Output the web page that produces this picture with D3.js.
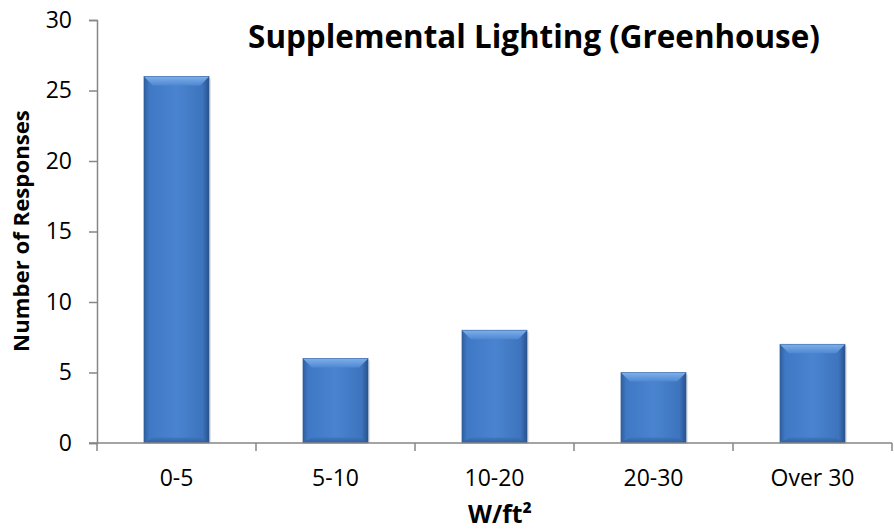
<!DOCTYPE html>
<html><head><meta charset="utf-8">
<script src="https://cdn.jsdelivr.net/npm/d3@7"></script>
<style>body{margin:0;background:#fff}svg{display:block}text{font-family:"Open Sans",sans-serif}</style>
</head><body>
<svg id="c" width="894" height="529"></svg>
<script>
const categories = ["0-5","5-10","10-20","20-30","Over 30"];
const values = [26, 6, 8, 5, 7];
const yTicks = [0,5,10,15,20,25,30];

const svg = d3.select("#c");
const m = {l:97, r:892, t:20, b:443};
const x = d3.scaleBand().domain(categories).range([m.l, m.r]).paddingInner(0.59).paddingOuter(0.295);
const y = d3.scaleLinear().domain([0,30]).range([m.b, m.t]);

const defs = svg.append("defs");
const g = defs.append("linearGradient").attr("id","bg").attr("x1","0").attr("x2","1").attr("y1","0").attr("y2","0");
[[0,"#2f5f9e"],[0.08,"#3f78c4"],[0.5,"#4a84d0"],[0.9,"#3d74bd"],[1,"#28528c"]].forEach(([o,c])=>g.append("stop").attr("offset",o).attr("stop-color",c));
const gt = defs.append("linearGradient").attr("id","tg").attr("x1","0").attr("x2","0").attr("y1","0").attr("y2","1");
[[0,"#7fb0ea"],[1,"#4f88d2"]].forEach(([o,c])=>gt.append("stop").attr("offset",o).attr("stop-color",c));
const gb = defs.append("linearGradient").attr("id","bb").attr("x1","0").attr("x2","0").attr("y1","0").attr("y2","1");
[[0,"#3d72b8"],[1,"#2a5590"]].forEach(([o,c])=>gb.append("stop").attr("offset",o).attr("stop-color",c));

const yAxis = svg.append("g").attr("transform",`translate(${m.l},0)`)
  .call(d3.axisLeft(y).tickValues(yTicks).tickSize(8).tickPadding(17));
yAxis.select(".domain").attr("stroke","#868686").attr("stroke-width",1.5);
yAxis.selectAll(".tick line").attr("stroke","#868686").attr("stroke-width",1.5);
yAxis.selectAll(".tick text").attr("font-size",23).attr("fill","#000").attr("font-family","Open Sans");

const bars = svg.append("g").selectAll("g").data(categories).join("g");
bars.each(function(d,i){
  const s = d3.select(this);
  const bx = x(d), bw = x.bandwidth(), top = y(values[i]), h = y(0)-y(values[i]);
  s.append("rect").attr("x",bx+2).attr("y",top+2).attr("width",bw).attr("height",h-2).attr("fill","#ccc").attr("opacity",0.5);
  s.append("rect").attr("x",bx).attr("y",top).attr("width",bw).attr("height",h).attr("fill","url(#bg)");
  const bev = Math.min(9, h/3);
  s.append("path").attr("d",`M${bx},${top}L${bx+bw},${top}L${bx+bw-bev},${top+bev}L${bx+bev},${top+bev}Z`).attr("fill","url(#tg)");
  s.append("path").attr("d",`M${bx},${top+h}L${bx+bw},${top+h}L${bx+bw-bev},${top+h-bev*0.6}L${bx+bev},${top+h-bev*0.6}Z`).attr("fill","url(#bb)").attr("opacity",0.7);
  s.append("rect").attr("x",bx).attr("y",top).attr("width",bw).attr("height",h).attr("fill","none").attr("stroke","#2b5a96").attr("stroke-width",0.8).attr("opacity",0.6);
});

const xAxis = svg.append("g").attr("transform",`translate(0,${m.b})`)
  .call(d3.axisBottom(x).tickSize(0).tickPadding(27));
xAxis.select(".domain").remove();
xAxis.selectAll(".tick text").attr("font-size",23).attr("fill","#000").attr("font-family","Open Sans");
svg.append("line").attr("x1",m.l-8).attr("x2",m.r).attr("y1",m.b).attr("y2",m.b).attr("stroke","#868686").attr("stroke-width",1.5);
const bounds = d3.range(categories.length+1).map(i=>m.l + i*(m.r-m.l)/categories.length);
svg.append("g").selectAll("line").data(bounds).join("line")
  .attr("x1",d=>d).attr("x2",d=>d).attr("y1",m.b).attr("y2",m.b+8).attr("stroke","#868686").attr("stroke-width",1.5);

function fit(sel, target, base){
  sel.attr("font-size", base);
  const w = sel.node().getComputedTextLength();
  sel.attr("font-size", base*target/w);
}
const title = svg.append("text").attr("x",534).attr("y",48).attr("text-anchor","middle").attr("font-weight","bold").text("Supplemental Lighting (Greenhouse)");
fit(title, 572, 28);
const yl = svg.append("text").attr("transform","translate(29,231) rotate(-90)").attr("text-anchor","middle").attr("font-weight","bold").text("Number of Responses");
fit(yl, 242, 20);
const xl = svg.append("text").attr("x",500).attr("y",523).attr("text-anchor","middle").attr("font-weight","bold").text("W/ft²");
fit(xl, 64, 20);
</script>
</body></html>
